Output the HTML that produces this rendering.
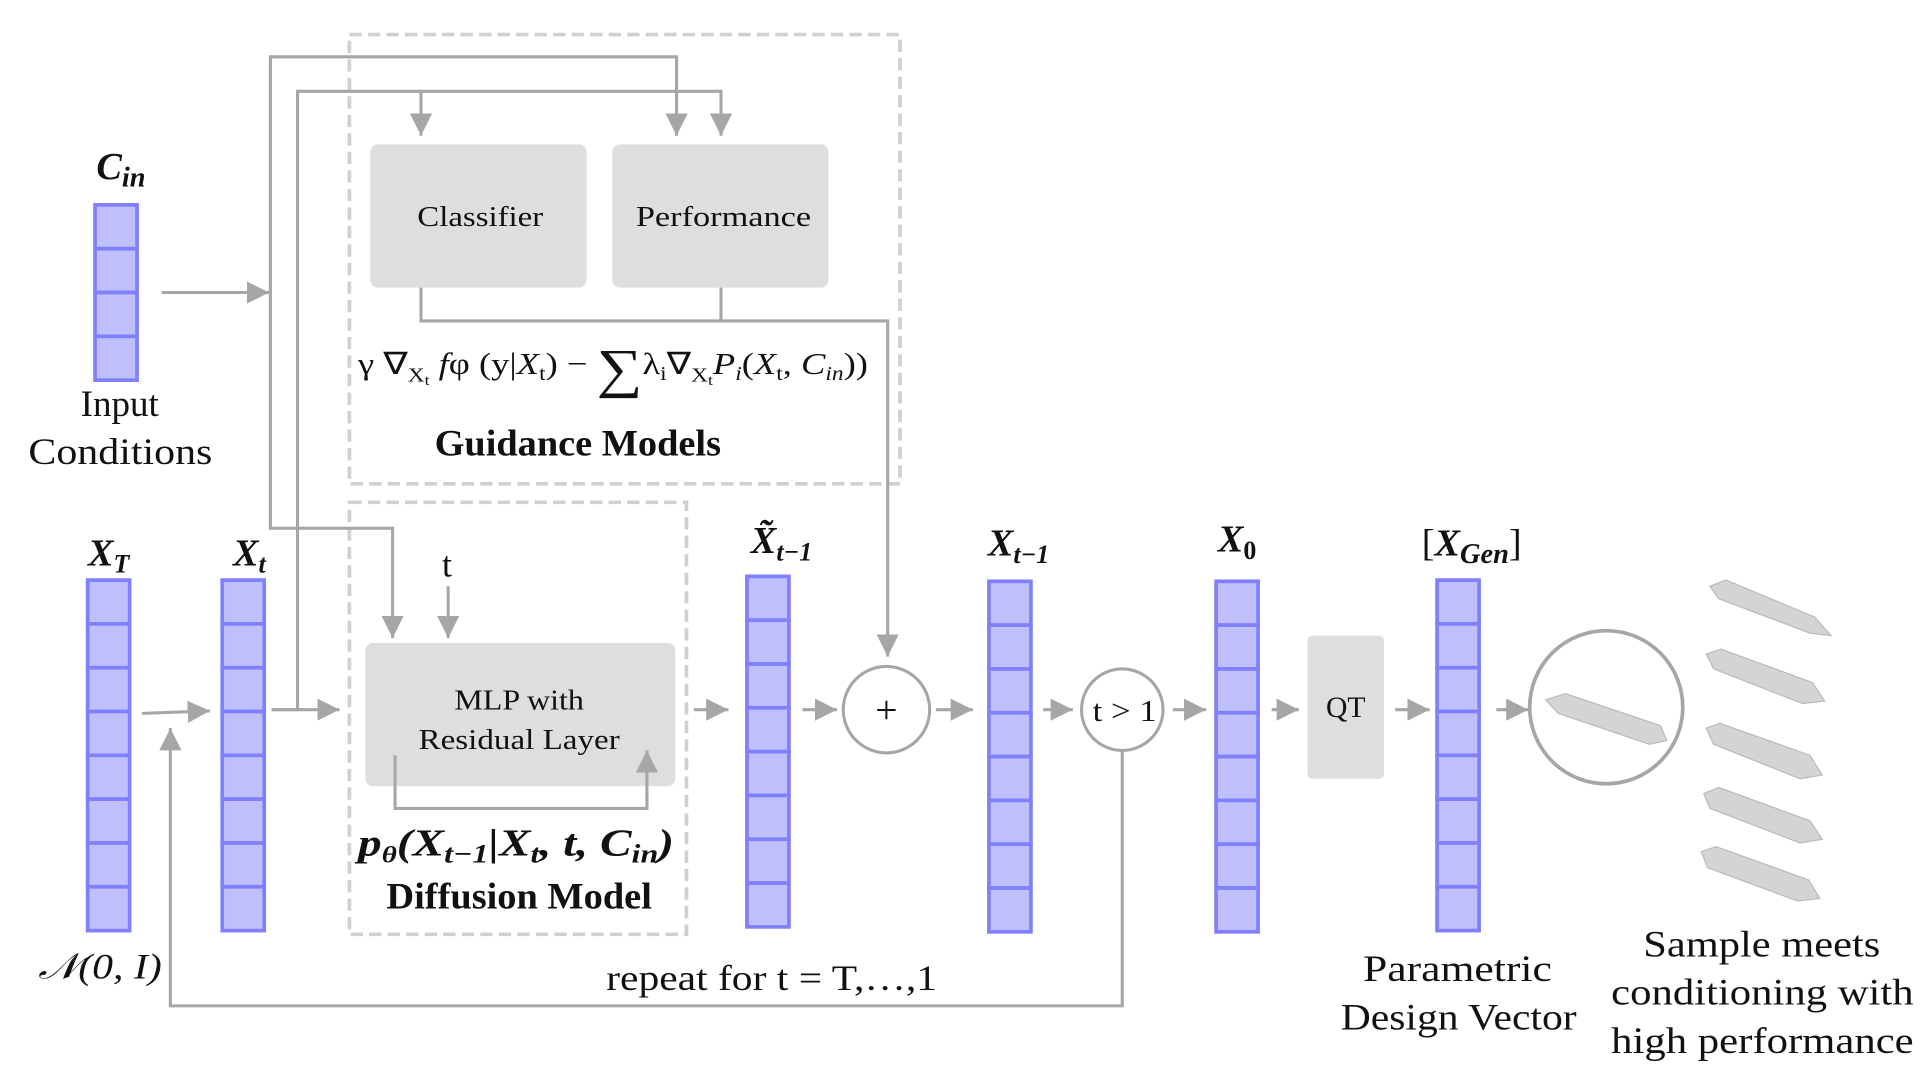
<!DOCTYPE html>
<html><head><meta charset="utf-8"><style>
html,body{margin:0;padding:0;background:#fff;}
svg{display:block;}
text{font-family:"Liberation Serif",serif;fill:#111;}
</style></head><body>
<svg width="1926" height="1075" viewBox="0 0 1560 871" preserveAspectRatio="none" xmlns="http://www.w3.org/2000/svg">
<defs>
<marker id="ar" viewBox="0 0 10 10" refX="10" refY="5" markerWidth="18" markerHeight="18" markerUnits="userSpaceOnUse" orient="auto"><path d="M0,0 L10,5 L0,10 z" fill="#a6a6a6"/></marker>
<g id="cell"><rect x="0" y="0" width="34" height="35.5" fill="#bfbffc" stroke="#8080ff" stroke-width="3"/></g>
<g id="vec8">
<use href="#cell" y="0"/><use href="#cell" y="35.5"/><use href="#cell" y="71"/><use href="#cell" y="106.5"/>
<use href="#cell" y="142"/><use href="#cell" y="177.5"/><use href="#cell" y="213"/><use href="#cell" y="248.5"/>
</g>
</defs>

<rect x="283" y="28" width="446" height="364" fill="none" stroke="#d0d0d0" stroke-width="3" stroke-dasharray="10,5"/>
<rect x="283" y="407" width="273" height="350" fill="none" stroke="#d0d0d0" stroke-width="3" stroke-dasharray="10,5"/>

<rect x="300" y="117" width="175" height="116" rx="6" fill="#dedede"/>
<rect x="496" y="117" width="175" height="116" rx="6" fill="#dedede"/>
<rect x="296" y="521" width="251" height="116" rx="6" fill="#dedede"/>
<rect x="1059" y="515" width="62" height="116" rx="4" fill="#dedede"/>
<text x="338" y="183" font-size="23" textLength="102" lengthAdjust="spacingAndGlyphs">Classifier</text>
<text x="515" y="183" font-size="23" textLength="142" lengthAdjust="spacingAndGlyphs">Performance</text>
<text x="368" y="575" font-size="23" textLength="105" lengthAdjust="spacingAndGlyphs">MLP with</text>
<text x="339" y="607" font-size="23" textLength="163" lengthAdjust="spacingAndGlyphs">Residual Layer</text>
<text x="1090" y="581" font-size="24" text-anchor="middle">QT</text>

<g transform="translate(77,166)"><use href="#cell" y="0"/><use href="#cell" y="35.5"/><use href="#cell" y="71"/><use href="#cell" y="106.5"/></g>
<use href="#vec8" x="71" y="470"/>
<use href="#vec8" x="180" y="470"/>
<use href="#vec8" x="605" y="467"/>
<use href="#vec8" x="801" y="471"/>
<use href="#vec8" x="985" y="471"/>
<use href="#vec8" x="1164" y="470"/>

<g stroke="#a6a6a6" stroke-width="2.5" fill="none">
<path d="M131,237 H218" marker-end="url(#ar)"/>
<path d="M219,237 V46 H548 V110" marker-end="url(#ar)"/>
<path d="M219,237 V428 H318 V517" marker-end="url(#ar)"/>
<path d="M220,575 H241 V74 H584 V110" marker-end="url(#ar)"/>
<path d="M341,74 V110" marker-end="url(#ar)"/>
<path d="M220,575 H275" marker-end="url(#ar)"/>
<path d="M115,578 L170,576" marker-end="url(#ar)"/>
<path d="M363,475 V517" marker-end="url(#ar)"/>
<path d="M320,612 V655 H524 V608" marker-end="url(#ar)"/>
<path d="M341,233 V260 H719 V532" marker-end="url(#ar)"/>
<path d="M584,233 V260"/>
<path d="M562,575 H590" marker-end="url(#ar)"/>
<path d="M650,575 H678" marker-end="url(#ar)"/>
<path d="M758,575 H788" marker-end="url(#ar)"/>
<path d="M845,575 H869" marker-end="url(#ar)"/>
<path d="M950,575 H977" marker-end="url(#ar)"/>
<path d="M1030,575 H1052" marker-end="url(#ar)"/>
<path d="M1130,575 H1158" marker-end="url(#ar)"/>
<path d="M1212,575 H1238" marker-end="url(#ar)"/>
<path d="M909,608 V815 H138 V590" marker-end="url(#ar)"/>
</g>

<circle cx="718" cy="575" r="35" fill="#fff" stroke="#a6a6a6" stroke-width="2.5"/>
<text x="718" y="586" font-size="32" text-anchor="middle">+</text>
<circle cx="909" cy="575" r="33" fill="#fff" stroke="#a6a6a6" stroke-width="2.5"/>
<text x="885" y="584" font-size="25" textLength="52" lengthAdjust="spacingAndGlyphs">t &gt; 1</text>
<circle cx="1301" cy="573" r="62" fill="#fff" stroke="#a6a6a6" stroke-width="3"/>

<g fill="#d4d4d4" stroke="#bbb" stroke-width="1">
<path d="M1252,567 L1268,562 L1345,588 L1350,600 L1336,603 L1262,578 Z"/>
<path d="M1385,475 L1398,470 L1470,500 L1483,515 L1466,513 L1392,485 Z"/>
<path d="M1382,530 L1394,526 L1468,553 L1478,568 L1460,570 L1388,542 Z"/>
<path d="M1382,590 L1393,586 L1466,612 L1476,628 L1458,631 L1388,603 Z"/>
<path d="M1380,643 L1392,638 L1466,665 L1476,680 L1458,683 L1385,655 Z"/>
<path d="M1378,690 L1390,686 L1465,713 L1474,728 L1456,730 L1383,703 Z"/>
</g>

<text x="98" y="145" font-size="31" font-weight="bold" font-style="italic" text-anchor="middle">C<tspan font-size="23" dy="6">in</tspan></text>
<text x="97" y="337" font-size="30" text-anchor="middle">Input</text>
<text x="23" y="376" font-size="30" textLength="149" lengthAdjust="spacingAndGlyphs">Conditions</text>
<text x="88" y="458" font-size="31" font-weight="bold" font-style="italic" text-anchor="middle">X<tspan font-size="21" dy="6">T</tspan></text>
<text x="202" y="458" font-size="31" font-weight="bold" font-style="italic" text-anchor="middle">X<tspan font-size="21" dy="6">t</tspan></text>
<text x="633" y="448" font-size="31" font-weight="bold" font-style="italic" text-anchor="middle">X&#771;<tspan font-size="21" dy="6">t−1</tspan></text>
<text x="825" y="450" font-size="31" font-weight="bold" font-style="italic" text-anchor="middle">X<tspan font-size="21" dy="6">t−1</tspan></text>
<text x="1002" y="447" font-size="31" font-weight="bold" font-style="italic" text-anchor="middle">X<tspan font-size="21" dy="6" font-style="normal">0</tspan></text>
<text x="1192" y="450" font-size="31" text-anchor="middle">[<tspan font-weight="bold" font-style="italic">X</tspan><tspan font-size="23" dy="6" font-weight="bold" font-style="italic">Gen</tspan><tspan dy="-6">]</tspan></text>
<text x="362" y="467" font-size="29" text-anchor="middle">t</text>
<text x="290" y="303" font-size="25" textLength="413" lengthAdjust="spacingAndGlyphs">γ ∇<tspan font-size="16" dy="6">X</tspan><tspan font-size="12" dy="3">t</tspan><tspan dy="-9"> </tspan><tspan font-style="italic">f</tspan>φ (y|<tspan font-style="italic">X</tspan><tspan font-size="16" dy="5">t</tspan><tspan dy="-5">) − </tspan><tspan font-size="44" dy="10">∑</tspan><tspan dy="-10">λ</tspan><tspan font-size="16" dy="5">i</tspan><tspan dy="-5">∇</tspan><tspan font-size="16" dy="6">X</tspan><tspan font-size="12" dy="3">t</tspan><tspan dy="-9" font-style="italic">P</tspan><tspan font-size="16" dy="5" font-style="italic">i</tspan><tspan dy="-5">(</tspan><tspan font-style="italic">X</tspan><tspan font-size="16" dy="5">t</tspan><tspan dy="-5">, </tspan><tspan font-style="italic">C</tspan><tspan font-size="16" dy="5" font-style="italic">in</tspan><tspan dy="-5">))</tspan></text>
<text x="352" y="369" font-size="30" font-weight="bold" textLength="232" lengthAdjust="spacingAndGlyphs">Guidance Models</text>
<text x="290" y="693" font-size="31" font-weight="bold" font-style="italic" textLength="256" lengthAdjust="spacingAndGlyphs">p<tspan font-size="19" dy="6">θ</tspan><tspan dy="-6">(X</tspan><tspan font-size="21" dy="6">t−1</tspan><tspan dy="-6">|X</tspan><tspan font-size="21" dy="6">t</tspan><tspan dy="-6">, t, C</tspan><tspan font-size="21" dy="6">in</tspan><tspan dy="-6">)</tspan></text>
<text x="313" y="736" font-size="30" font-weight="bold" textLength="215" lengthAdjust="spacingAndGlyphs">Diffusion Model</text>
<text x="31" y="793" font-size="29" font-style="italic" textLength="100" lengthAdjust="spacingAndGlyphs">𝒩(0, I)</text>
<text x="491" y="802" font-size="29" textLength="268" lengthAdjust="spacingAndGlyphs">repeat for t = T,…,1</text>
<text x="1104" y="795" font-size="30" textLength="153" lengthAdjust="spacingAndGlyphs">Parametric</text>
<text x="1086" y="834" font-size="30" textLength="191" lengthAdjust="spacingAndGlyphs">Design Vector</text>
<text x="1331" y="775" font-size="30" textLength="192" lengthAdjust="spacingAndGlyphs">Sample meets</text>
<text x="1305" y="814" font-size="30" textLength="245" lengthAdjust="spacingAndGlyphs">conditioning with</text>
<text x="1305" y="853" font-size="30" textLength="245" lengthAdjust="spacingAndGlyphs">high performance</text>
</svg>
</body></html>
